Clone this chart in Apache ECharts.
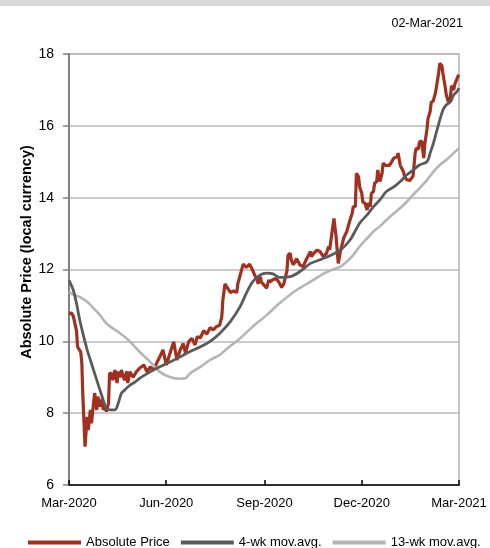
<!DOCTYPE html>
<html>
<head>
<meta charset="utf-8">
<script src="https://cdn.jsdelivr.net/npm/echarts@6/dist/echarts.min.js"></script>
<style>
html,body{margin:0;padding:0;background:#fff;}
#chart{width:490px;height:548px;}
</style>
</head>
<body>
<div id="chart"></div>
<script>
// ---- Data (days since 2020-03-02, values in local currency) ----
const reportDate = '02-Mar-2021';

const priceDays = [0,2,4,7,8,11,12,13,15,17,18,20,21,23,24,26,27,29,31,32,34,35,37,38,40,41,43,45,46,48,49,51,52,54,55,57,60,63,66,70,73,76,79,82,85,88,91,95,98,101,104,107,109,112,115,118,120,123,126,129,132,135,138,141,143,144,146,148,151,154,157,158,160,163,166,169,172,174,176,177,179,180,185,187,188,191,194,197,199,201,204,205,207,208,210,213,216,219,222,226,227,229,232,235,238,241,243,244,246,248,250,252,254,257,260,263,265,266,268,269,271,272,274,275,277,279,280,282,283,285,286,288,289,291,293,294,296,297,300,304,307,308,310,313,314,316,319,322,324,325,327,328,330,332,333,335,336,338,339,341,343,344,346,347,349,350,352,353,355,357,358,360,361,363,364,365];
const priceValues = [10.75,10.8,10.7,10.3,9.85,9.7,9.4,8.46,7.07,7.9,7.53,8.09,7.72,8.28,8.56,8.09,8.46,8.18,8.4,8.09,8.2,8.04,8.28,9.12,9.1,8.92,9.2,8.84,9.16,9.0,9.2,9.0,8.92,9.16,8.84,9.15,9.0,9.15,9.25,9.34,9.15,9.29,9.2,9.39,9.57,9.76,9.34,9.71,9.99,9.48,9.76,9.94,9.67,9.99,10.08,9.9,10.13,10.1,10.3,10.2,10.38,10.32,10.41,10.45,10.68,11.15,11.6,11.5,11.36,11.4,11.36,11.6,11.82,12.15,12.06,12.15,11.97,11.83,11.74,11.6,11.8,11.65,11.48,11.71,11.65,11.72,11.75,11.62,11.5,11.6,11.97,12.4,12.45,12.27,12.13,12.3,12.13,12.08,12.27,12.5,12.36,12.45,12.54,12.5,12.36,12.45,12.64,12.55,13.0,13.42,12.9,12.17,12.5,12.87,13.06,13.38,13.56,13.75,13.75,14.68,14.58,14.3,14.12,13.88,13.84,13.66,13.85,13.75,14.12,14.17,14.4,14.45,14.77,14.45,14.68,14.96,14.9,14.86,14.9,15.1,15.14,15.24,14.9,14.72,14.6,14.5,14.48,14.6,15.25,15.38,15.35,15.55,15.58,15.1,15.5,15.9,16.2,16.4,16.65,16.7,16.92,16.9,17.48,17.74,17.67,17.45,17.1,16.88,16.67,16.8,17.12,17.0,17.15,17.3,17.38,17.42];

const ma4Days = [0,4,7,10,13,17,20,23,26,29,32,35,38,43,46,49,52,55,59,62,66,76,85,95,104,113,123,132,141,151,160,166,172,179,185,191,197,207,216,226,235,244,254,263,272,279,285,291,297,304,310,316,322,328,335,338,341,344,347,350,353,357,360,363,365];
const ma4Values = [11.7,11.43,11.06,10.6,10.22,9.76,9.48,9.2,8.92,8.64,8.37,8.13,8.09,8.09,8.27,8.55,8.64,8.73,8.82,8.87,8.97,9.15,9.29,9.43,9.57,9.71,9.85,10.0,10.22,10.55,10.96,11.34,11.66,11.85,11.9,11.88,11.78,11.8,11.94,12.17,12.27,12.38,12.54,12.82,13.29,13.52,13.75,13.94,14.17,14.3,14.45,14.63,14.77,14.91,15.0,15.24,15.51,15.84,16.16,16.44,16.58,16.67,16.86,16.95,17.05];

const ma13Days = [0,4,10,17,23,29,35,41,48,54,60,66,76,85,95,104,109,113,123,132,141,148,160,172,185,197,213,226,238,247,254,260,266,272,279,285,291,297,304,310,316,322,328,335,341,347,353,360,365];
const ma13Values = [11.38,11.3,11.24,11.1,10.92,10.73,10.5,10.36,10.22,10.08,9.9,9.71,9.43,9.15,9.0,8.96,8.97,9.1,9.29,9.48,9.62,9.8,10.08,10.41,10.73,11.06,11.43,11.66,11.88,12.0,12.08,12.22,12.4,12.64,12.87,13.06,13.2,13.38,13.56,13.71,13.88,14.08,14.26,14.49,14.72,14.91,15.05,15.24,15.38];

const xTickDays = [0,91,183,274,365];
const xTickLabels = ['Mar-2020','Jun-2020','Sep-2020','Dec-2020','Mar-2021'];
const seriesNames = ['Absolute Price','4-wk mov.avg.','13-wk mov.avg.'];
const yAxisTitle = 'Absolute Price (local currency)';

// ---- Build ----
const pairs = (days, vals) => days.map((d, i) => [d, vals[i]]);

const chart = echarts.init(document.getElementById('chart'), null, {renderer: 'canvas'});
const FONT = 'Liberation Sans, Arial, sans-serif';

chart.setOption({
  animation: false,
  backgroundColor: '#ffffff',
  graphic: [
    {type: 'rect', shape: {x: 0, y: 0, width: 490, height: 6}, style: {fill: '#d9d9d9'}, silent: true},
    {
      type: 'text', x: 27, y: 252, rotation: Math.PI / 2, silent: true,
      style: {text: yAxisTitle, fill: '#000', font: 'bold 14.5px ' + FONT, align: 'center', verticalAlign: 'middle'}
    }
  ],
  title: {
    text: reportDate,
    right: 22, top: 12,
    textStyle: {fontFamily: FONT, fontSize: 12.5, fontWeight: 'normal', color: '#000'}
  },
  grid: {left: 69, right: 31, top: 54, bottom: 63, show: true, borderColor: '#c4c4c4', borderWidth: 2, containLabel: false},
  legend: {
    left: 23, top: 531, width: 467,
    itemWidth: 53, itemHeight: 4, itemGap: 11,
    icon: 'rect',
    textStyle: {fontFamily: FONT, fontSize: 13, color: '#000'},
    data: seriesNames
  },
  xAxis: {
    type: 'value',
    min: 0, max: 365,
    axisLine: {show: true, lineStyle: {color: '#000', width: 1.5}},
    axisTick: {show: true, inside: true, length: 5, lineStyle: {color: '#000', width: 1.5}, customValues: xTickDays},
    axisLabel: {
      customValues: xTickDays,
      margin: 12,
      fontFamily: FONT, fontSize: 13, color: '#000',
      hideOverlap: false,
      formatter: function (v) {
        const i = xTickDays.indexOf(Math.round(v));
        return i >= 0 ? xTickLabels[i] : '';
      }
    },
    splitLine: {show: false}
  },
  yAxis: {
    type: 'value',
    min: 6, max: 18, interval: 2,
    axisLine: {show: true, lineStyle: {color: '#808080', width: 2}},
    axisTick: {show: true, inside: false, length: 6, lineStyle: {color: '#808080', width: 1.5}},
    axisLabel: {margin: 15, fontFamily: FONT, fontSize: 14, color: '#000'},
    splitLine: {show: true, lineStyle: {color: '#b8b8b8', width: 1.5}}
  },
  series: [
    {
      name: seriesNames[0], type: 'line', data: pairs(priceDays, priceValues),
      showSymbol: false, symbol: 'none', z: 3,
      lineStyle: {color: '#a0301f', width: 3.2}, itemStyle: {color: '#a0301f'}
    },
    {
      name: seriesNames[2], type: 'line', data: pairs(ma13Days, ma13Values),
      showSymbol: false, symbol: 'none', smooth: 0.3, z: 4,
      lineStyle: {color: '#b5b5b5', width: 2.6}, itemStyle: {color: '#b5b5b5'}
    },
    {
      name: seriesNames[1], type: 'line', data: pairs(ma4Days, ma4Values),
      showSymbol: false, symbol: 'none', smooth: 0.3, z: 5,
      lineStyle: {color: '#5a5a5a', width: 2.8}, itemStyle: {color: '#5a5a5a'}
    }
  ]
});
</script>
</body>
</html>
